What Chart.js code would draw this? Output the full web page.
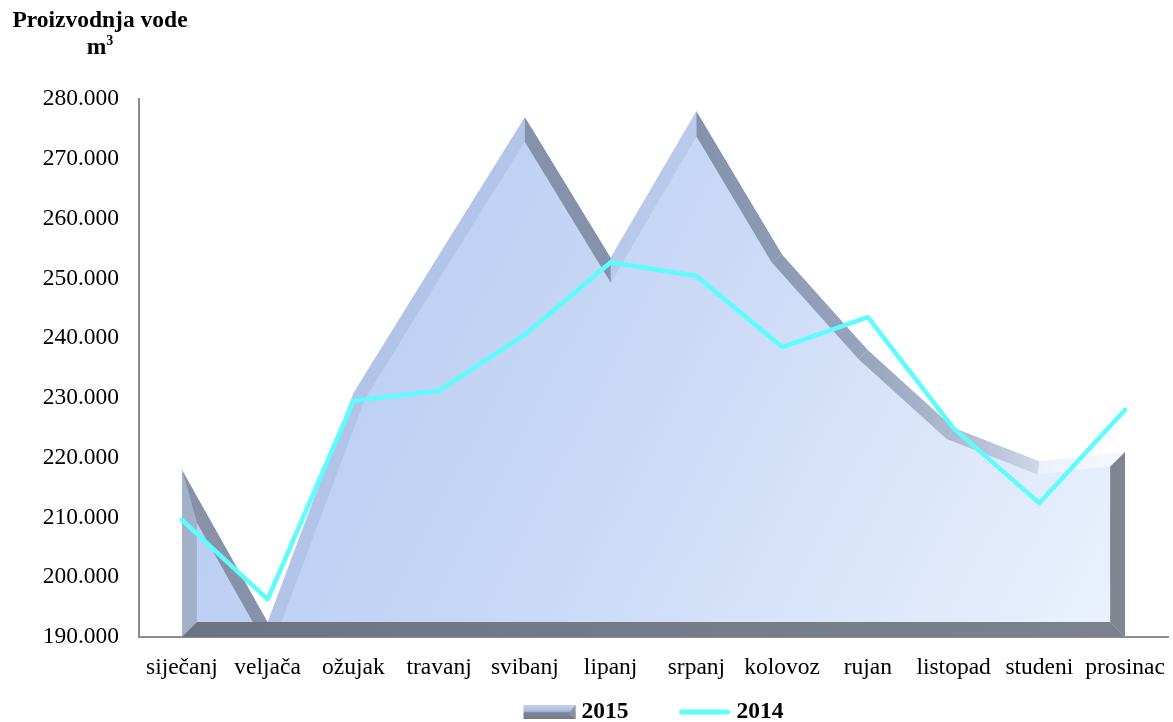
<!DOCTYPE html>
<html>
<head>
<meta charset="utf-8">
<script src="https://cdn.jsdelivr.net/npm/chart.js@4"></script>
<style>
    body { margin: 0; background: #fff; }
    #wrap { position: relative; width: 1173px; height: 722px; }
    #naslov {
        position: absolute; left: 2px; top: 6px; width: 196px;
        font: bold 23.5px "Liberation Serif", "Times New Roman", serif;
        text-align: center; line-height: 27px; color: #000;
    }
    #naslov sup { font-size: 14px; line-height: 0; }
</style>
</head>
<body>
<div id="wrap">
    <canvas id="myChart" width="1173" height="722"></canvas>
    <div id="naslov">Proizvodnja vode<br>m<sup>3</sup></div>
</div>
<script>
// mjeseci
const mjeseci = ['siječanj', 'veljača', 'ožujak', 'travanj', 'svibanj', 'lipanj',
    'srpanj', 'kolovoz', 'rujan', 'listopad', 'studeni', 'prosinac'];

// proizvodnja vode (m3), očitano s grafa
const god2015 = [218000, 192500, 230800, 254000, 277000, 253500,
    278000, 254000, 238000, 225000, 219400, 221000];
const god2014 = [209600, 196300, 229500, 231200, 240600, 252700,
    250400, 238500, 243500, 224900, 212400, 228000];

// os y
const yMin = 190000;
const yMax = 280000;
const yKorak = 10000;

const FONT = '"Liberation Serif", "Times New Roman", serif';
const CIJAN = '#5cfdfc';

function formatBroj(v) {
    return String(v).replace(/\B(?=(\d{3})+(?!\d))/g, '.');
}

// gradijent ispune za 2015
function ispuna(context) {
    const chart = context.chart;
    const area = chart.chartArea;
    if (!area) return '#c5d6f5';
    const g = chart.ctx.createLinearGradient(area.left, area.top, area.right, area.bottom);
    g.addColorStop(0, '#b1c6ef');
    g.addColorStop(0.5, '#c9d9f6');
    g.addColorStop(1, '#eef4fe');
    return g;
}

// sjecište dva pravca (točka + smjer)
function sjeciste(p1, u1, p2, u2) {
    const cr = u1.x * u2.y - u1.y * u2.x;
    if (Math.abs(cr) < 1e-6) return { x: p2.x, y: p2.y };
    const t = ((p2.x - p1.x) * u2.y - (p2.y - p1.y) * u2.x) / cr;
    return { x: p1.x + t * u1.x, y: p1.y + t * u1.y };
}

// "bevel" rub oko površine 2015
const bevelPlugin = {
    id: 'bevel',
    afterDatasetDraw(chart, args) {
        if (args.index !== 0) return;
        const ctx = chart.ctx;
        const pts = args.meta.data.map(p => ({ x: p.x, y: p.y }));
        const base = chart.scales.y.getPixelForValue(yMin);
        const n = pts.length;
        const x0 = pts[0].x, xn = pts[n - 1].x;
        const b = 15;
        const w = 13;

        // pomaknuti (unutarnji) rub gornje linije
        const seg = [];
        for (let i = 0; i < n - 1; i++) {
            const a = pts[i], c = pts[i + 1];
            const len = Math.hypot(c.x - a.x, c.y - a.y);
            const u = { x: (c.x - a.x) / len, y: (c.y - a.y) / len };
            const nv = { x: -u.y, y: u.x };
            seg.push({ p: { x: a.x + nv.x * w, y: a.y + nv.y * w }, u });
        }
        const unutra = [];
        unutra.push(sjeciste(seg[0].p, seg[0].u, { x: x0 + b, y: 0 }, { x: 0, y: 1 }));
        for (let i = 1; i < n - 1; i++) {
            unutra.push(sjeciste(seg[i - 1].p, seg[i - 1].u, seg[i].p, seg[i].u));
        }
        unutra.push(sjeciste(seg[n - 2].p, seg[n - 2].u, { x: xn - b, y: 0 }, { x: 0, y: 1 }));

        ctx.save();
        ctx.beginPath();
        ctx.moveTo(x0, base);
        pts.forEach(p => ctx.lineTo(p.x, p.y));
        ctx.lineTo(xn, base);
        ctx.closePath();
        ctx.clip();

        function poligon(boja, tocke) {
            ctx.fillStyle = boja;
            ctx.beginPath();
            tocke.forEach((t, i) => i ? ctx.lineTo(t.x, t.y) : ctx.moveTo(t.x, t.y));
            ctx.closePath();
            ctx.fill();
        }

        // lijevi i desni rub
        poligon('#a2b0ca', [pts[0], unutra[0], { x: x0 + b, y: base - b }, { x: x0, y: base }]);
        poligon('#80868f', [pts[n - 1], unutra[n - 1], { x: xn - b, y: base - b }, { x: xn, y: base }]);

        // gornji rubovi
        const tamni = ctx.createLinearGradient(x0, 0, xn, 0);
        tamni.addColorStop(0, '#8792aa');
        tamni.addColorStop(0.55, '#8592ac');
        tamni.addColorStop(0.72, '#98a4bd');
        tamni.addColorStop(0.85, '#b6c1d6');
        tamni.addColorStop(0.93, '#d6dff0');
        tamni.addColorStop(1, '#eef4fc');
        const svijetli = ctx.createLinearGradient(x0, 0, xn, 0);
        svijetli.addColorStop(0, 'rgba(120, 140, 185, 0.2)');
        svijetli.addColorStop(0.7, 'rgba(120, 140, 185, 0.16)');
        svijetli.addColorStop(0.9, 'rgba(255, 255, 255, 0.3)');
        svijetli.addColorStop(1, 'rgba(255, 255, 255, 0.6)');
        for (let i = 0; i < n - 1; i++) {
            const pad = pts[i + 1].y > pts[i].y;
            poligon(pad ? tamni : svijetli, [pts[i], pts[i + 1], unutra[i + 1], unutra[i]]);
        }

        // donji rub
        const donji = ctx.createLinearGradient(x0, 0, xn, 0);
        donji.addColorStop(0, '#6c7484');
        donji.addColorStop(1, '#7d828c');
        poligon(donji, [{ x: x0, y: base }, { x: x0 + b, y: base - b },
            { x: xn - b, y: base - b }, { x: xn, y: base }]);

        ctx.restore();
    }
};

// legenda ispod osi x, centrirana na području grafa
const legendaPlugin = {
    id: 'legenda',
    afterDraw(chart) {
        const ctx = chart.ctx;
        const area = chart.chartArea;
        const sw = 52, razmak = 6, izmedju = 50;
        ctx.save();
        ctx.font = 'bold 23.5px ' + FONT;
        ctx.textBaseline = 'middle';
        const tekstovi = chart.data.datasets.map(ds => ds.label);
        const sirine = tekstovi.map(t => ctx.measureText(t).width);
        const ukupno = sirine.reduce((s, v) => s + sw + razmak + v, 0) + izmedju * (tekstovi.length - 1);
        let x = (area.left + area.right) / 2 - ukupno / 2;
        const y = 712;
        tekstovi.forEach((t, i) => {
            if (i === 0) {
                // mali "bevel" pravokutnik
                const g = ctx.createLinearGradient(0, y - 7, 0, y + 7);
                g.addColorStop(0, '#c2d2f2');
                g.addColorStop(0.45, '#a9b9da');
                g.addColorStop(0.55, '#7c8496');
                g.addColorStop(1, '#737b8b');
                ctx.fillStyle = g;
                ctx.fillRect(x, y - 7, sw, 14);
                ctx.fillStyle = '#8a92a3';
                ctx.beginPath();
                ctx.moveTo(x + sw, y - 7);
                ctx.lineTo(x + sw, y + 7);
                ctx.lineTo(x + sw - 7, y + 2);
                ctx.closePath();
                ctx.fill();
            } else {
                ctx.strokeStyle = CIJAN;
                ctx.lineWidth = 5;
                ctx.lineCap = 'round';
                ctx.beginPath();
                ctx.moveTo(x + 3, y);
                ctx.lineTo(x + sw - 3, y);
                ctx.stroke();
            }
            x += sw + razmak;
            ctx.fillStyle = '#000';
            ctx.fillText(t, x, y);
            x += sirine[i] + izmedju;
        });
        ctx.restore();
    }
};

const ctx = document.getElementById('myChart').getContext('2d');
const myChart = new Chart(ctx, {
    type: 'line',
    data: {
        labels: mjeseci,
        datasets: [{
            label: '2015',
            data: god2015,
            fill: 'origin',
            backgroundColor: ispuna,
            borderWidth: 0,
            pointRadius: 0,
            tension: 0,
            order: 1
        }, {
            label: '2014',
            data: god2014,
            fill: false,
            borderColor: CIJAN,
            borderWidth: 4.5,
            borderCapStyle: 'round',
            borderJoinStyle: 'round',
            pointRadius: 0,
            tension: 0,
            order: 0
        }]
    },
    options: {
        responsive: false,
        animation: false,
        events: [],
        layout: {
            padding: { top: 99, right: 5, left: 0, bottom: 0 }
        },
        scales: {
            x: {
                offset: true,
                grid: { display: false, drawTicks: false },
                border: { display: true, color: '#8c8c8c', width: 2 },
                ticks: {
                    color: '#000',
                    font: { family: FONT, size: 23.5 },
                    padding: 17,
                    maxRotation: 0,
                    autoSkip: false
                },
                afterFit(scale) {
                    scale.height = 85;
                    scale.paddingLeft = 0;
                    scale.paddingRight = 0;
                }
            },
            y: {
                min: yMin,
                max: yMax,
                grid: { display: false, drawTicks: false },
                border: { display: true, color: '#8c8c8c', width: 2 },
                ticks: {
                    stepSize: yKorak,
                    color: '#000',
                    font: { family: FONT, size: 23.5 },
                    padding: 20,
                    callback: v => formatBroj(v)
                },
                afterFit(scale) { scale.width = 139; }
            }
        },
        plugins: {
            legend: { display: false },
            title: { display: false },
            tooltip: { enabled: false }
        }
    },
    plugins: [bevelPlugin, legendaPlugin]
});
</script>
</body>
</html>
